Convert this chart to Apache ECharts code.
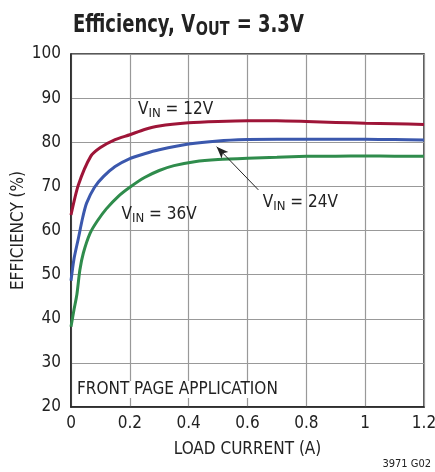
<!DOCTYPE html>
<html><head><meta charset="utf-8">
<script src="https://cdn.jsdelivr.net/npm/echarts@6/dist/echarts.min.js"></script>
<style>html,body{margin:0;padding:0;background:#fff}#c{width:435px;height:472px}</style>
</head><body><div id="c"></div>
<script>
const xTicks = [0, 0.2, 0.4, 0.6, 0.8, 1, 1.2];
const yTicks = [20, 30, 40, 50, 60, 70, 80, 90, 100];
const vin12 = [[0,63.5],[0.025,70.3],[0.067,76.8],[0.1,78.8],[0.15,80.6],[0.2,81.7],[0.25,82.9],[0.3,83.7],[0.4,84.4],[0.5,84.7],[0.6,84.85],[0.7,84.85],[0.8,84.7],[0.9,84.5],[1.0,84.3],[1.1,84.2],[1.2,84.0]];
const vin24 = [[0,48.6],[0.01,53.5],[0.025,58.2],[0.04,63.0],[0.053,66.2],[0.08,69.8],[0.11,72.2],[0.15,74.5],[0.2,76.3],[0.25,77.4],[0.3,78.3],[0.4,79.6],[0.5,80.3],[0.6,80.6],[0.7,80.7],[0.8,80.7],[0.9,80.7],[1.0,80.7],[1.1,80.6],[1.2,80.5]];
const vin36 = [[0,38.2],[0.01,42.0],[0.02,45.5],[0.03,51.0],[0.042,54.9],[0.065,59.4],[0.09,62.2],[0.12,64.9],[0.16,67.7],[0.2,69.8],[0.25,72.0],[0.3,73.6],[0.35,74.7],[0.42,75.6],[0.5,76.1],[0.6,76.4],[0.7,76.6],[0.8,76.8],[0.9,76.85],[1.0,76.9],[1.1,76.85],[1.2,76.8]];
const seriesNames = ['VIN = 12V', 'VIN = 24V', 'VIN = 36V'];
const labels = [
  {sub:'IN', val:'= 12V', at:[0.228, 86.1]},
  {sub:'IN', val:'= 36V', at:[0.172, 62.3]},
  {sub:'IN', val:'= 24V', at:[0.652, 65.0]}
];
const arrowFrom = [0.637, 69.2];
const arrowTo = [0.495, 79.0];
const noteText = 'FRONT PAGE APPLICATION';

const FONT = '"DejaVu Sans Condensed", "Liberation Sans", sans-serif';
const chart = echarts.init(document.getElementById('c'));
const mk = (name, data, color) => ({
  name, type:'line', data, smooth:0.25, showSymbol:false,
  lineStyle:{color, width:3}, itemStyle:{color}, z:3
});
const s24 = mk(seriesNames[1], vin24, '#3b58ad');
s24.markLine = {
  silent:true, symbol:['none','arrow'], symbolSize:[7,12],
  lineStyle:{color:'#222', width:1, type:'solid'}, label:{show:false},
  data:[[{coord:arrowFrom},{coord:arrowTo}]]
};
chart.setOption({
  animation:false,
  textStyle:{fontFamily:FONT},
  grid:{left:71, right:11, top:54, bottom:65, show:true, borderColor:'#222', borderWidth:1.5,
    containLabel:false, outerBoundsMode:'none'},
  xAxis:{type:'value', min:0, max:1.2, interval:0.2,
    name:'LOAD CURRENT (A)', nameLocation:'middle', nameGap:34,
    nameTextStyle:{fontFamily:FONT, fontSize:17, color:'#222'},
    axisLine:{show:true, lineStyle:{color:'#222', width:1.5}}, axisTick:{show:false},
    axisLabel:{fontFamily:FONT, fontSize:17, color:'#222', margin:8, formatter:v=>String(+v.toFixed(1))},
    splitLine:{show:true, lineStyle:{color:'#999', width:1.2}}},
  yAxis:{type:'value', min:20, max:100, interval:10,
    name:'EFFICIENCY (%)', nameLocation:'middle', nameGap:44, nameMoveOverlap:false,
    nameTextStyle:{fontFamily:FONT, fontSize:17, color:'#222'},
    axisLine:{show:true, lineStyle:{color:'#222', width:1.5}}, axisTick:{show:false},
    axisLabel:{fontFamily:FONT, fontSize:17, color:'#222', margin:10},
    splitLine:{show:true, lineStyle:{color:'#999', width:1.2}}},
  series:[mk(seriesNames[0], vin12, '#9e1538'), s24, mk(seriesNames[2], vin36, '#2f8c4c')]
});
const g = [];
g.push({type:'text', x:73, y:10, scaleX:0.8, scaleY:1, originX:0, originY:0, z:10, style:{
  text:'{a|Efficiency, V}{s|OUT}{a| = 3.3V}',
  rich:{
    a:{fontFamily:FONT, fontWeight:'bold', fontSize:25, fill:'#222'},
    s:{fontFamily:FONT, fontWeight:'bold', fontSize:20, fill:'#222', padding:[10,1,0,1]}
  }}});
labels.forEach(l => {
  const p = chart.convertToPixel({gridIndex:0}, l.at);
  g.push({type:'text', left:p[0], top:p[1]-14, z:10, style:{
    text:'{a|V}{s|' + l.sub + '}{a| ' + l.val + '}',
    rich:{a:{fontFamily:FONT, fontSize:17, fill:'#222'}, s:{fontFamily:FONT, fontSize:13, fill:'#222', padding:[8,0,0,0]}}
  }});
});
const np = chart.convertToPixel({gridIndex:0}, [0, 20]);
g.push({type:'text', left:np[0]+6, top:np[1]-26, z:10, style:{text:noteText, fontFamily:FONT, fontSize:17, fill:'#222', backgroundColor:'#fff'}});
g.push({type:'text', right:4, bottom:2, z:10, style:{text:'3971 G02', fontFamily:FONT, fontSize:11, fill:'#222'}});
chart.setOption({graphic:g});
</script></body></html>
